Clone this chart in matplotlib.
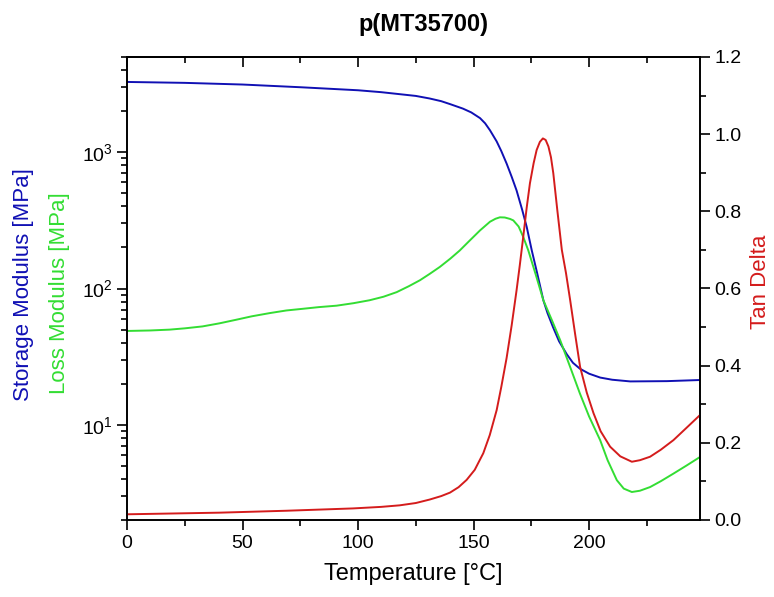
import matplotlib
matplotlib.use("Agg")
import matplotlib.pyplot as plt
from matplotlib import ticker

plt.rcParams['font.family'] = ['Liberation Sans', 'DejaVu Sans']
plt.rcParams['mathtext.default'] = 'regular'

# storage modulus E' [MPa]
temp_storage = [0, 25, 50, 75, 100, 110, 125, 131, 136, 140, 145.4, 149, 152.8, 155, 157.1,
                160, 162, 164.3, 166.5, 168.6, 171, 173, 175.2, 177.5, 180.2, 182, 184.4,
                187, 190.3, 193, 196, 200, 204.8, 210, 217.8, 233.7, 248]
storage = [3280, 3230, 3140, 3000, 2850, 2760, 2590, 2480, 2370, 2250, 2090, 1960, 1780, 1630, 1450,
           1200, 1020, 826, 660, 525, 380, 283, 190, 130, 82, 66, 52,
           41, 33, 28.5, 25.8, 23.7, 22.2, 21.4, 20.8, 20.9, 21.3]

# loss modulus E'' [MPa]
temp_loss = [0, 10, 18.4, 25, 32.7, 40, 47.3, 54, 61.8, 69, 76.2, 83, 90.7, 98, 105, 111,
             116.7, 122, 126.8, 131, 135.4, 140, 144, 148, 152.8, 157.1, 159.5, 161.4, 163.5,
             165.8, 167.2, 169.5, 171.5, 173.7, 177, 180.2, 184, 187.5, 192, 196, 200, 204.8,
             208, 212, 215, 218.5, 222, 226.4, 231, 236.5, 242, 248]
loss = [48.8, 49.2, 49.9, 51, 52.7, 55.5, 59, 62.5, 66, 69, 71, 73, 74.8, 78, 82, 87,
        94, 104, 115, 128, 144, 166, 190, 222, 267, 309, 325, 333, 332,
        324, 316, 285, 239, 190, 125, 82, 58, 41.7, 26, 17, 11.5, 7.7,
        5.5, 3.92, 3.4, 3.21, 3.28, 3.49, 3.85, 4.38, 5.0, 5.8]

# tan delta
temp_tan = [0, 40, 69, 97.8, 110, 118, 125, 131, 136, 139.8, 143.5, 147, 150.5, 154.2, 157,
            160, 162, 164.3, 166.5, 168.6, 170, 171.5, 173, 174.4, 176, 177.3, 178.7, 180,
            181.2, 182.4, 183.5, 184.5, 186.3, 188.2, 190, 191.8, 194, 196.1, 199, 201.9,
            205, 209.1, 213.5, 218.5, 222, 226.4, 231, 236.5, 242, 248]
tan_delta = [0.0148, 0.019, 0.024, 0.030, 0.034, 0.038, 0.044, 0.053, 0.062, 0.071, 0.085,
             0.104, 0.13, 0.173, 0.22, 0.285, 0.345, 0.42, 0.505, 0.595, 0.66, 0.734, 0.81,
             0.873, 0.925, 0.959, 0.98, 0.989, 0.985, 0.968, 0.94, 0.899, 0.80, 0.70, 0.64,
             0.57, 0.48, 0.397, 0.33, 0.277, 0.23, 0.19, 0.165, 0.151, 0.155, 0.164, 0.182,
             0.207, 0.238, 0.272]

blue = '#1010b4'
green = '#33dd33'
red = '#d41c1c'

fig = plt.figure(figsize=(7.74, 5.97), dpi=100)
ax = fig.add_axes([127 / 774, 77 / 597, 573 / 774, 463 / 597])
ax.plot(temp_storage, storage, color=blue, lw=1.4)
ax.plot(temp_loss, loss, color=green, lw=1.4)
ax.set_yscale('log')
ax.set_xlim(0, 248)
ax.set_ylim(2, 5000)
ax.set_xticks(range(0, 250, 50))
ax.xaxis.set_minor_locator(ticker.MultipleLocator(25))
ax.yaxis.set_minor_formatter(ticker.NullFormatter())
ax.tick_params(which='both', direction='out', labelsize=14, width=1.2)
ax.tick_params(which='major', length=7)
ax.tick_params(which='minor', length=4)
ax.set_xlabel('Temperature [°C]', fontsize=17, labelpad=8)
ax.set_title('p(MT35700)', fontsize=17, fontweight='bold', pad=19, x=0.517)

top = ax.secondary_xaxis('top')
top.set_xticks(range(0, 250, 50))
top.xaxis.set_minor_locator(ticker.MultipleLocator(25))
top.tick_params(which='both', direction='in', labeltop=False, width=1.2)
top.tick_params(which='major', length=7)
top.tick_params(which='minor', length=4)

ax2 = ax.twinx()
ax2.plot(temp_tan, tan_delta, color=red, lw=1.4)
ax2.set_ylim(0, 1.2)
ax2.yaxis.set_major_locator(ticker.MultipleLocator(0.2))
ax2.yaxis.set_minor_locator(ticker.MultipleLocator(0.1))
ax2.yaxis.set_major_formatter(ticker.FormatStrFormatter('%.1f'))
ax2.tick_params(which='both', direction='out', labelsize=14, width=1.2)
ax2.tick_params(which='major', length=7)
ax2.tick_params(which='minor', length=4)

for a in (ax, ax2):
    for s in a.spines.values():
        s.set_linewidth(1.2)
top.spines['top'].set_linewidth(1.2)

fig.text(0.030, 0.524, 'Storage Modulus [MPa]', color=blue, fontsize=16,
         rotation=90, ha='center', va='center')
fig.text(0.077, 0.509, 'Loss Modulus [MPa]', color=green, fontsize=16,
         rotation=90, ha='center', va='center')
fig.text(0.982, 0.528, 'Tan Delta', color=red, fontsize=16,
         rotation=90, ha='center', va='center')

fig.savefig('out.png', dpi=100)
